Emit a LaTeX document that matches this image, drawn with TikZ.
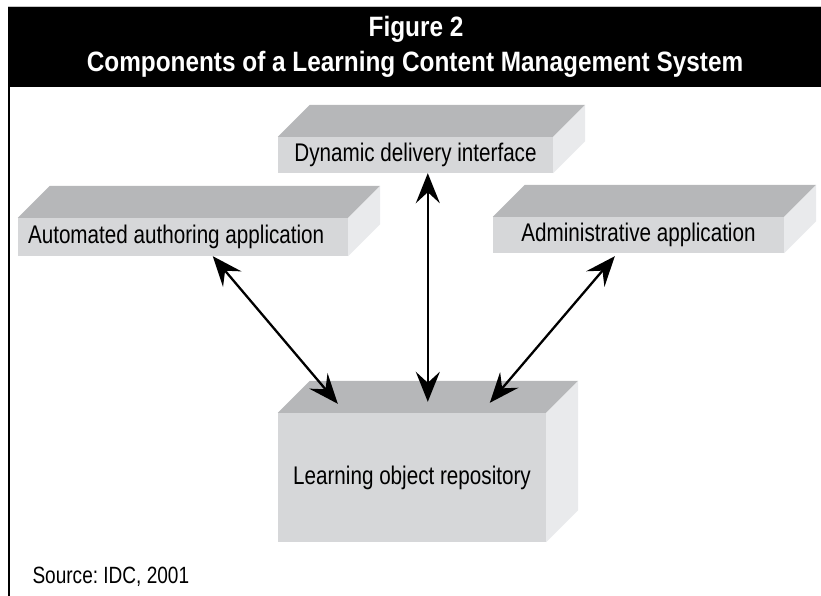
\documentclass[tikz,border=0pt]{standalone}
\usepackage{fontspec}
\setmainfont{Liberation Sans}[FakeStretch=0.81]
\newfontfamily\headfont{Liberation Sans}[FakeStretch=0.87]
\usetikzlibrary{arrows.meta}
\frenchspacing

\definecolor{frontgray}{HTML}{D6D7D9}
\definecolor{topgray}{HTML}{B6B7B9}
\definecolor{sidegray}{HTML}{E9EAEC}

% top and right faces of a slab, drawn from the front node
\newcommand{\slabfaces}[1]{%
	\fill[topgray] (#1.north west) -- ++(32,-32)
		-- ([xshift=32pt,yshift=32pt]#1.north east) -- (#1.north east) -- cycle;
	\fill[sidegray] (#1.north east) -- ++(32,-32)
		-- ([xshift=32pt,yshift=32pt]#1.south east) -- (#1.south east) -- cycle;
}

\begin{document}
\begin{tikzpicture}[x=1pt, y=-1pt,
	slab/.style={fill=frontgray, inner sep=0pt,
		font=\fontsize{25.5}{30}\selectfont},
	link/.style={line width=2.3pt,
		{Stealth[length=30pt,width=24pt,inset=11pt]}-{Stealth[length=30pt,width=24pt,inset=11pt]}},
	heading/.style={text=white, anchor=base,
		font=\headfont\bfseries\fontsize{28}{32}\selectfont}]
	\useasboundingbox (0,0) rectangle (821,596);

	% header band and left rule
	\fill[black] (8,7) rectangle (821,87);
	\draw[gray!45, line width=1pt] (8,6.5) -- (821,6.5);
	\draw[black, line width=1.5pt] (9,87) -- (9,596);
	\node[heading] (fig) at (416,37) {Figure 2};
	\node[heading] (title) at (415,72) {Components of a Learning Content Management System};

	% the four slabs
	\node[slab, minimum width=275pt, minimum height=36pt] (dyn) at (415.5,155) {Dynamic delivery interface};
	\node[slab, minimum width=330pt, minimum height=38pt, text width=310pt, align=flush left] (auth) at (183,237) {Automated authoring application};
	\node[slab, minimum width=291pt, minimum height=36pt] (admin) at (638.5,235) {Administrative application};
	\node[slab, minimum width=268pt, minimum height=129pt] (repo) at (412,477.5) {Learning object repository};
	\slabfaces{dyn}
	\slabfaces{auth}
	\slabfaces{admin}
	\slabfaces{repo}

	\draw[link] ([xshift=195pt]auth.south west) -- ([xshift=60pt,yshift=9pt]repo.north west);
	\draw[link] ([xshift=150pt]dyn.south west) -- ([xshift=150pt,yshift=11pt]repo.north west);
	\draw[link] ([xshift=122pt,yshift=-3pt]admin.south west) -- ([xshift=212pt,yshift=10pt]repo.north west);

	\node[anchor=base west, font=\fontsize{23.5}{28}\selectfont] (src) at (29,583) {Source: IDC, 2001};
\end{tikzpicture}
\end{document}
